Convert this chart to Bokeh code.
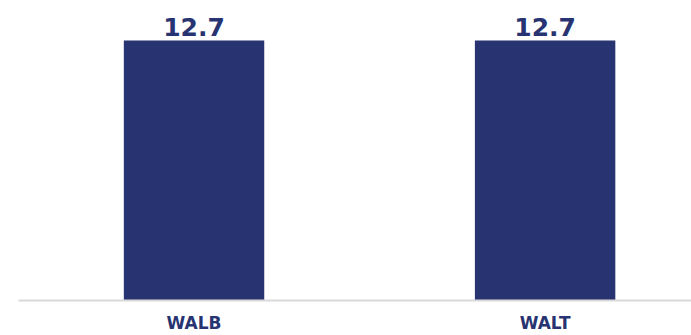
from bokeh.plotting import figure
from bokeh.models import Range1d, FixedTicker, ColumnDataSource
from bokeh.core.properties import value
from bokeh.embed import file_html
from bokeh.resources import INLINE

categories = ["WALB", "WALT"]
values = [12.7, 12.7]
value_labels = ["12.7", "12.7"]

NAVY = "#283371"
xs = [i + 0.5 for i in range(len(categories))]

src = ColumnDataSource(dict(x=xs, top=values, label=value_labels))

p = figure(width=691, height=335, output_backend="svg", toolbar_location=None,
           x_range=Range1d(0, 1.917), y_range=Range1d(0, 14.26),
           min_border_left=18, min_border_right=0, min_border_top=8, min_border_bottom=35)
p.outline_line_color = None
p.xgrid.visible = False
p.ygrid.visible = False
p.yaxis.visible = False
p.background_fill_color = "white"
p.border_fill_color = "white"

p.vbar(x="x", top="top", width=0.4, bottom=0, source=src, fill_color=NAVY, line_color=None)
p.text(x="x", y="top", text="label", source=src, text_align="center", text_baseline="alphabetic",
       y_offset=-13, text_font=value("DejaVu Sans"), text_font_style="bold",
       text_font_size="25px", text_color=NAVY)

ax = p.xaxis[0]
ax.ticker = FixedTicker(ticks=xs)
ax.major_label_overrides = {x: c for x, c in zip(xs, categories)}
ax.major_tick_line_color = None
ax.minor_tick_line_color = None
ax.major_tick_out = 0
ax.major_tick_in = 0
ax.minor_tick_out = 0
ax.axis_line_color = "#d9d9d9"
ax.axis_line_width = 2
ax.major_label_text_font = "DejaVu Sans"
ax.major_label_text_font_style = "bold"
ax.major_label_text_font_size = "17px"
ax.major_label_text_color = NAVY
ax.major_label_standoff = 12

open("out.html", "w").write(file_html(p, INLINE))
